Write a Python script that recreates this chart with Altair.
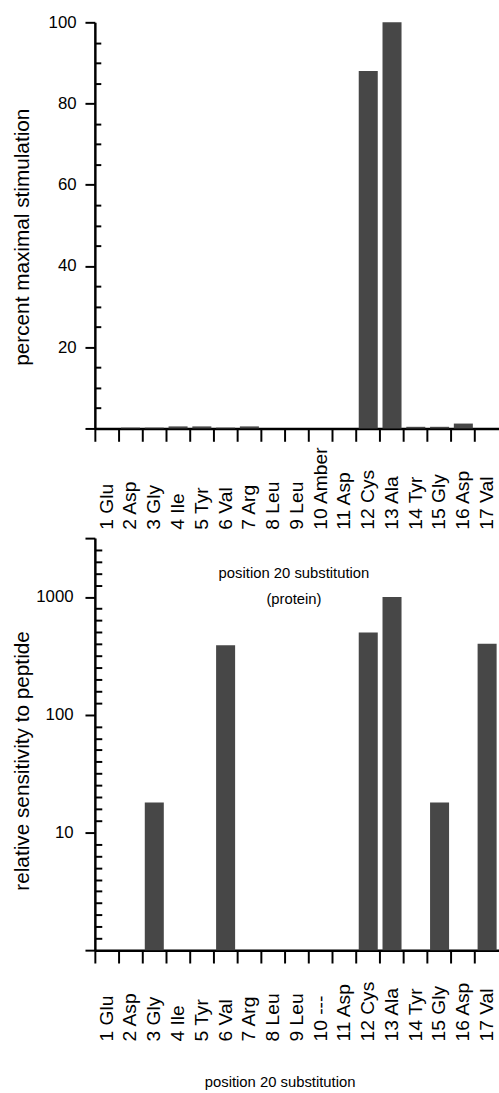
import altair as alt
import pandas as pd

# ---- data ----
labels_top = ["1 Glu", "2 Asp", "3 Gly", "4 Ile", "5 Tyr", "6 Val", "7 Arg", "8 Leu", "9 Leu",
              "10 Amber", "11 Asp", "12 Cys", "13 Ala", "14 Tyr", "15 Gly", "16 Asp", "17 Val"]
stim_values = [0.0, 0.2, 0.2, 0.5, 0.5, 0.2, 0.5, 0.0, 0.0, 0.0, 0.0, 88, 100, 0.4, 0.4, 1.2, 0.0]

labels_bottom = ["1 Glu", "2 Asp", "3 Gly", "4 Ile", "5 Tyr", "6 Val", "7 Arg", "8 Leu", "9 Leu",
                 "10 ---", "11 Asp", "12 Cys", "13 Ala", "14 Tyr", "15 Gly", "16 Asp", "17 Val"]
sens_values = [1, 1, 18, 1, 1, 390, 1, 1, 1, 1, 1, 500, 1000, 1, 18, 1, 400]

top_major_ticks = [0, 20, 40, 60, 80, 100]
top_minor_ticks = [5, 10, 15, 25, 30, 35, 45, 50, 55, 65, 70, 75, 85, 90, 95]
log_top = 10 ** 3.5
bot_major_ticks = [1, 10, 100, 1000, log_top]
bot_minor_ticks = [10 ** (k / 10) for k in range(1, 35) if k % 10 != 0]

W = 409
H_TOP = 411
H_BOT = 417
BAR_COLOR = "#474747"
FONT = "Liberation Sans, Arial, sans-serif"

df_top = pd.DataFrame({"sub": labels_top, "val": stim_values})
df_bot = pd.DataFrame({"sub": labels_bottom, "val": sens_values})

x_common = dict(
    bandPosition=-0.125, tickSize=13, tickWidth=2, domainWidth=2.5,
    labelAngle=270, labelAlign="left", labelBaseline="middle",
    labelFont=FONT, labelFontSize=19.5, labelOverlap=False,
    titleFont=FONT, titleFontSize=15, titleFontWeight="normal",
    titleBaseline="top", titleLineHeight=26,
)
y_common = dict(
    tickSize=10, tickWidth=2, domainWidth=2.5, grid=False,
    labelFont=FONT, labelFontSize=17, labelOverlap=False,
    titleFont=FONT, titleFontSize=21, titleFontWeight="normal",
    titleX=-63, titleBaseline="bottom",
)
minor_common = dict(orient="left", labels=False, domain=False, tickWidth=2,
                    grid=False, title=None)

# ---- top panel ----
x_top = alt.X("sub:N", sort=labels_top,
              scale=alt.Scale(paddingInner=0.2, paddingOuter=0.1),
              axis=alt.Axis(title=["position 20 substitution", "(protein)"],
                            labelPadding=89, titleX=201, titleY=139, **x_common))
y_top_scale = alt.Scale(domain=[0, 100], nice=False, zero=True)

top_main = alt.Chart(df_top).mark_bar(color=BAR_COLOR).encode(
    x=x_top,
    y=alt.Y("val:Q", scale=y_top_scale,
            axis=alt.Axis(values=top_major_ticks, title="percent maximal stimulation",
                          labelExpr="datum.value == 0 ? '' : datum.label",
                          labelPadding=9, titleY=217, **y_common)),
)
top_minor = alt.Chart(df_top).mark_bar(opacity=0).encode(
    x=x_top,
    y=alt.Y("val:Q", scale=y_top_scale,
            axis=alt.Axis(values=top_minor_ticks, offset=-6, tickSize=6, **minor_common)),
)
top = alt.layer(top_main, top_minor).resolve_axis(y="independent").properties(width=W, height=H_TOP)

# ---- bottom panel ----
x_bot = alt.X("sub:N", sort=labels_bottom,
              scale=alt.Scale(paddingInner=0.2, paddingOuter=0.1),
              axis=alt.Axis(title="position 20 substitution",
                            labelPadding=79, titleX=187, titleY=126, **x_common))
y_bot_scale = alt.Scale(type="log", domain=[1, log_top], nice=False)

bot_main = alt.Chart(df_bot).mark_bar(color=BAR_COLOR).encode(
    x=x_bot,
    y=alt.Y("val:Q", scale=y_bot_scale,
            axis=alt.Axis(values=bot_major_ticks, title="relative sensitivity to peptide",
                          labelExpr="(datum.value == 10 || datum.value == 100 || datum.value == 1000) ? format(datum.value, 'd') : ''",
                          labelPadding=12, titleY=225, **y_common)),
    y2=alt.datum(1),
)
bot_minor = alt.Chart(df_bot).mark_bar(opacity=0).encode(
    x=x_bot,
    y=alt.Y("val:Q", scale=y_bot_scale,
            axis=alt.Axis(values=bot_minor_ticks, offset=-7, tickSize=7, **minor_common)),
    y2=alt.datum(1),
)
bottom = alt.layer(bot_main, bot_minor).resolve_axis(y="independent").properties(width=W, height=H_BOT)

chart = alt.vconcat(top, bottom, spacing=111, bounds="flush").resolve_scale(
    x="independent", y="independent"
).properties(
    padding={"left": 12, "top": 7, "right": 0, "bottom": 0}
).configure_view(stroke=None).configure_axis(
    domainColor="black", tickColor="black", labelColor="black", titleColor="black"
)

chart.save("out.html", embed_options={"renderer": "svg", "actions": False})
